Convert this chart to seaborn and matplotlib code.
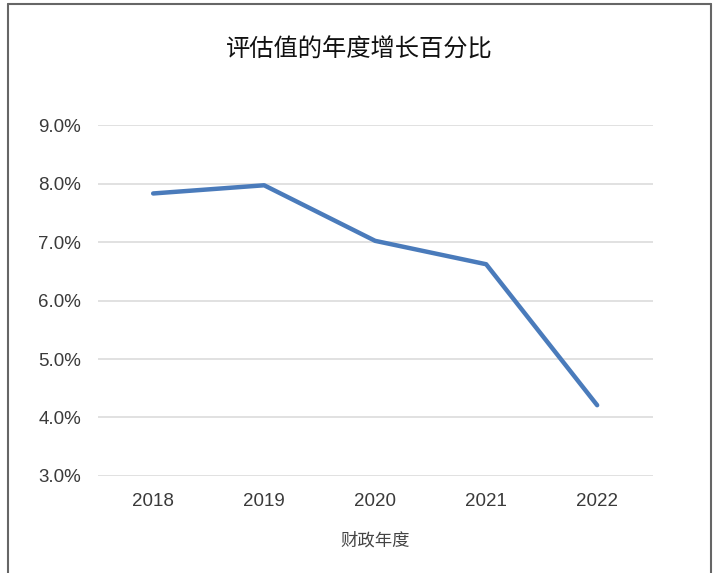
import matplotlib
matplotlib.use("Agg")
import matplotlib.pyplot as plt
from matplotlib.lines import Line2D
from matplotlib.ticker import FuncFormatter
import seaborn as sns
import pandas as pd

years = ["2018", "2019", "2020", "2021", "2022"]
growth = [7.83, 7.97, 7.02, 6.62, 4.21]

title = "评估值的年度增长百分比"
x_label = "财政年度"

sns.set_theme(style="white")
plt.rcParams['font.family'] = ['Noto Sans CJK SC', 'DejaVu Sans']

df = pd.DataFrame({"year": years, "growth": growth})

fig = plt.figure(figsize=(7.18, 5.73), dpi=100)
ax = fig.add_axes([0.136, 0.1693, 0.773, 0.6125])

sns.lineplot(data=df, x="year", y="growth", ax=ax, color="#4a7bbb",
             linewidth=3.2, sort=False)

ax.set_xlim(-0.5, 4.5)
ax.set_ylim(3, 9)
ax.set_yticks([3, 4, 5, 6, 7, 8, 9])
ax.yaxis.set_major_formatter(FuncFormatter(lambda v, p: f"{v:.1f}%"))
ax.grid(axis="y", color="#dcdcdc", linewidth=1.2)
ax.set_axisbelow(True)
for s in ax.spines.values():
    s.set_visible(False)
ax.tick_params(axis="both", length=0, labelsize=13.5, labelcolor="#3a3a3a")
ax.tick_params(axis="x", pad=12)
ax.tick_params(axis="y", pad=12)
for lab in ax.get_xticklabels() + ax.get_yticklabels():
    lab.set_family(['Liberation Sans', 'DejaVu Sans'])
ax.set_xlabel(x_label, fontsize=12.5, color="#444444", labelpad=16)
ax.set_ylabel("")

fig.text(0.5, 0.913, title, ha="center", va="center", fontsize=17.5, color="#111111")

# grey frame around the chart (left, top, right)
for xs, ys in [([0.011, 0.011], [0.0, 0.993]), ([0.011, 0.99], [0.993, 0.993]),
               ([0.99, 0.99], [0.993, 0.0])]:
    fig.add_artist(Line2D(xs, ys, transform=fig.transFigure, color="#666666", linewidth=1.5))

fig.savefig("out.png", dpi=100)
